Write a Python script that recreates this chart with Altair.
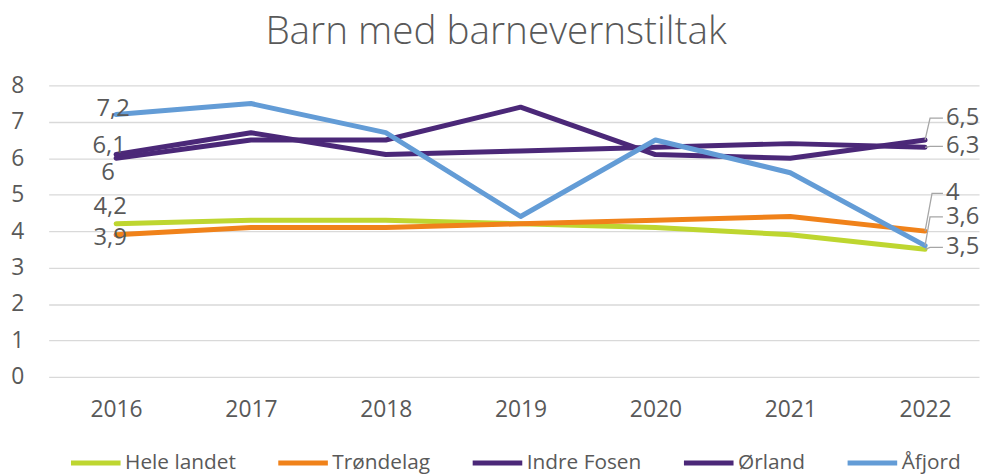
import altair as alt
import pandas as pd

# ---------------- data ----------------
years = [2016, 2017, 2018, 2019, 2020, 2021, 2022]
series_names = ["Hele landet", "Trøndelag", "Indre Fosen", "Ørland", "Åfjord"]
hele_landet = [4.2, 4.3, 4.3, 4.2, 4.1, 3.9, 3.5]
trondelag = [3.9, 4.1, 4.1, 4.2, 4.3, 4.4, 4.0]
indre_fosen = [6.0, 6.5, 6.5, 7.4, 6.1, 6.0, 6.5]
orland = [6.1, 6.7, 6.1, 6.2, 6.3, 6.4, 6.3]
afjord = [7.2, 7.5, 6.7, 4.4, 6.5, 5.6, 3.6]
y_ticks = [0, 1, 2, 3, 4, 5, 6, 7, 8]
colors = ["#BED630", "#F0821A", "#4B2878", "#4B2878", "#639CD6"]
title_text = "Barn med barnevernstiltak"

values = [hele_landet, trondelag, indre_fosen, orland, afjord]

# ---------------- layout (styles) ----------------
FONT = "Open Sans"
TXT = "#595959"
W, H = 938, 294
X_MIN, X_MAX = 2015.5, 2022.4
Y_MIN, Y_MAX = 0, 8
KX = W / (X_MAX - X_MIN)
KY = H / (Y_MAX - Y_MIN)

left_offsets = {"Åfjord": (-3, -5), "Ørland": (-7, -9), "Indre Fosen": (-8, 15),
                "Hele landet": (-6, -17), "Trøndelag": (-6, 3)}
right_offsets = {"Indre Fosen": (-22, 5), "Ørland": (-1, 5), "Trøndelag": (-38, 7),
                 "Åfjord": (-29, 5), "Hele landet": (-2, 5)}
LEADER_END = 18
TEXT_DX = 21


def fmt(v):
    s = f"{v:.1f}".rstrip("0").rstrip(".")
    return s.replace(".", ",")


rows = []
for name, vals in zip(series_names, values):
    for yr, v in zip(years, vals):
        rows.append({"series": name, "year": yr, "value": v})
df = pd.DataFrame(rows)

lab_rows = []
lead_rows = []
for name, vals in zip(series_names, values):
    dx, dy = left_offsets[name]
    lab_rows.append({"series": name, "side": "left", "label": fmt(vals[0]),
                     "lx": years[0] + dx / KX, "ly": vals[0] - dy / KY})
    tdy, ex = right_offsets[name]
    v = vals[-1]
    ly = v - tdy / KY
    lab_rows.append({"series": name, "side": "right", "label": fmt(v),
                     "lx": years[-1] + TEXT_DX / KX, "ly": ly})
    lead_rows.append({"series": name, "k": 0, "lx": years[-1], "ly": v})
    lead_rows.append({"series": name, "k": 1, "lx": years[-1] + ex / KX, "ly": ly})
    lead_rows.append({"series": name, "k": 2, "lx": years[-1] + LEADER_END / KX, "ly": ly})
labels = pd.DataFrame(lab_rows)
leaders = pd.DataFrame(lead_rows)

xscale = alt.Scale(domain=[X_MIN, X_MAX], nice=False, zero=False)
yscale = alt.Scale(domain=[Y_MIN, Y_MAX], nice=False)

x_axis = alt.Axis(
    values=years, format="d", grid=False, ticks=False, domain=False,
    labelFont=FONT, labelFontSize=23, labelColor=TXT, labelPadding=22,
    title=None)
y_axis = alt.Axis(
    values=y_ticks, grid=True, gridColor="#D9D9D9", gridWidth=1.3,
    ticks=False, domain=False, labelFont=FONT, labelFontSize=23,
    labelColor=TXT, labelPadding=25, title=None, labelOverlap=False)

color = alt.Color(
    "series:N",
    scale=alt.Scale(domain=series_names, range=colors),
    sort=series_names,
    legend=alt.Legend(
        title=None, orient="none", direction="horizontal",
        legendX=20, legendY=353,
        symbolType="stroke", symbolSize=2500, symbolStrokeWidth=5,
        labelFont=FONT, labelFontSize=21, labelColor=TXT, labelOffset=2,
        columnPadding=32, columns=5,
    ),
)


def xq(field):
    return alt.X(field, type="quantitative", scale=xscale, axis=x_axis)


def yq(field):
    return alt.Y(field, type="quantitative", scale=yscale, axis=y_axis)


line_layers = []
for name in series_names:
    line_layers.append(
        alt.Chart(df).transform_filter(alt.datum.series == name)
        .mark_line(strokeWidth=5, strokeCap="round", strokeJoin="round")
        .encode(x=xq("year"), y=yq("value"), color=color)
    )

lead = alt.Chart(leaders).mark_line(color="#A6A6A6", strokeWidth=1.3).encode(
    x=xq("lx"), y=yq("ly"), detail="series:N", order="k:Q")

left_txt = alt.Chart(labels).transform_filter(alt.datum.side == "left").mark_text(
    font=FONT, fontSize=24, color=TXT, align="center", baseline="middle").encode(
    x=xq("lx"), y=yq("ly"), text="label:N")

right_txt = alt.Chart(labels).transform_filter(alt.datum.side == "right").mark_text(
    font=FONT, fontSize=24, color=TXT, align="left", baseline="middle").encode(
    x=xq("lx"), y=yq("ly"), text="label:N")

chart = alt.layer(*line_layers, lead, left_txt, right_txt).properties(
    width=W, height=H,
    padding={"left": 41, "top": 76, "right": 2, "bottom": 100},
    autosize=alt.AutoSizeParams(type="none"),
    title=alt.TitleParams(title_text, font=FONT, fontSize=39, fontWeight=300,
                          color=TXT, anchor="middle", dx=-18, offset=23),
).configure_view(stroke=None)

chart.save("out.html", embed_options={"renderer": "svg", "actions": False})
